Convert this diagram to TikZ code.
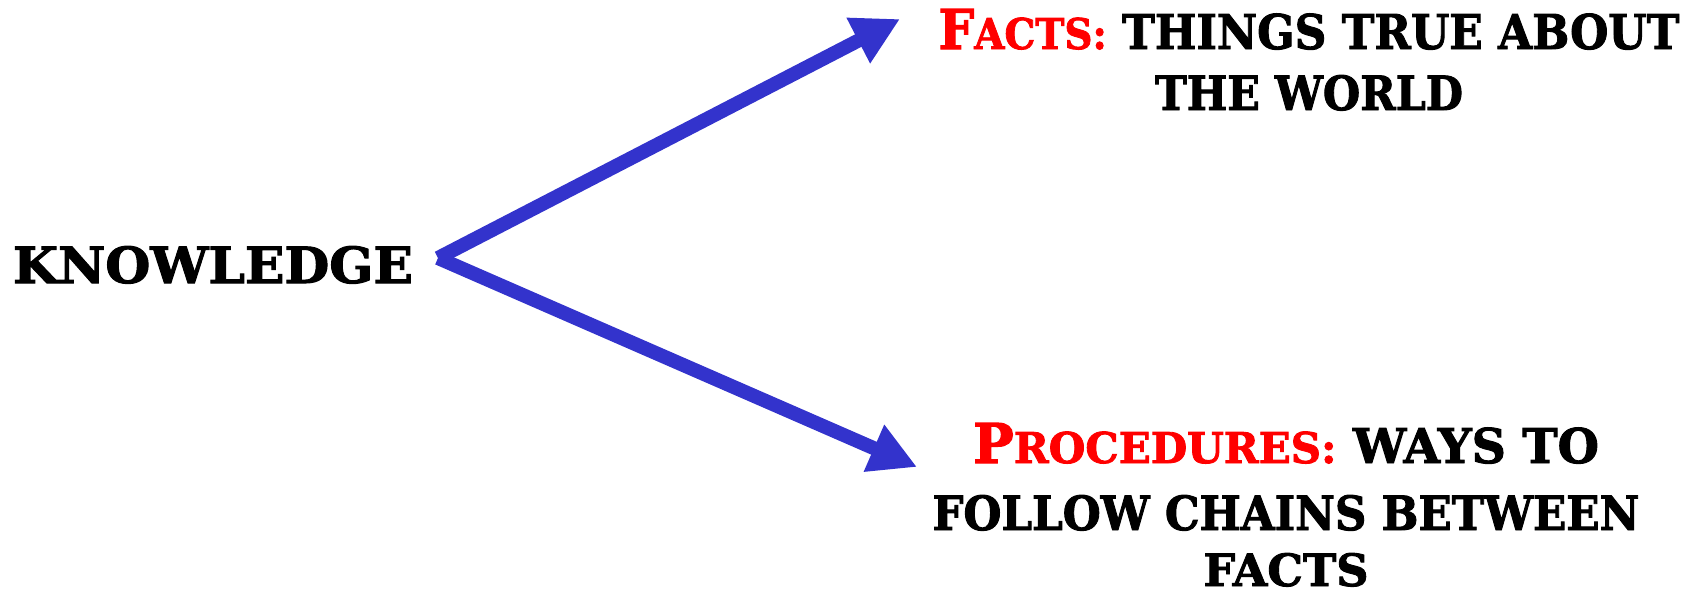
\documentclass[tikz,border=0pt]{standalone}
\usepackage{fontspec}
\usepackage{graphicx}
\setmainfont{DejaVu Serif}
\newfontfamily\heavyfont{DejaVu Serif Bold}[FakeBold=2]
\usetikzlibrary{arrows.meta}
\definecolor{arrowblue}{RGB}{51,51,204}
\definecolor{termred}{RGB}{255,0,0}
\newcommand{\initcap}[1]{{\fontsize{55}{55}\selectfont #1}}
\newcommand{\smallcaptext}[1]{{\fontsize{42.5}{42.5}\selectfont #1}}
\newcommand{\plaincap}[1]{{\fontsize{48}{48}\selectfont #1}}
\begin{document}
\begin{tikzpicture}[x=1pt,y=-1pt,
  txt/.style={inner sep=0pt, anchor=base, font=\heavyfont},
  conn/.style={draw=arrowblue, line width=14pt, -{Triangle[length=47pt,width=48pt]}}]
\useasboundingbox (0,0) rectangle (1696,590);
\node[txt] (know) at (213,283) {\resizebox{400pt}{37pt}{\plaincap{KNOWLEDGE}}};
\node[txt] (facts1) at (1309,49) {\resizebox{741pt}{40pt}{\textcolor{termred}{\initcap{F}\smallcaptext{ACTS:}}\plaincap{ THINGS TRUE ABOUT}}};
\node[txt] (facts2) at (1309,110) {\resizebox{308pt}{35pt}{\plaincap{THE WORLD}}};
\node[txt] (proc1) at (1286,463) {\resizebox{626pt}{40pt}{\textcolor{termred}{\initcap{P}\smallcaptext{ROCEDURES:}}\plaincap{ WAYS TO}}};
\node[txt] (proc2) at (1286,530) {\resizebox{707pt}{35pt}{\plaincap{FOLLOW CHAINS BETWEEN}}};
\node[txt] (proc3) at (1286,586) {\resizebox{165pt}{33pt}{\plaincap{FACTS}}};
\coordinate (src) at (438,258);
\coordinate (tipfacts) at (900,19);
\coordinate (tipproc) at (917,467);
\draw[conn] (src) -- (tipfacts);
\draw[conn] (src) -- (tipproc);
\end{tikzpicture}
\end{document}
